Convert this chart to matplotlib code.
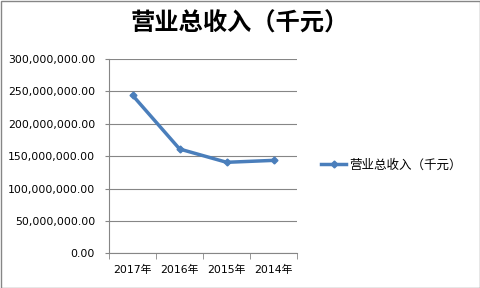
import matplotlib
matplotlib.use("Agg")
import matplotlib.pyplot as plt
from matplotlib.ticker import FuncFormatter, MultipleLocator
from matplotlib.patches import Rectangle

plt.rcParams['font.family'] = ['DejaVu Sans', 'Noto Sans CJK SC']

categories = ['2017年', '2016年', '2015年', '2014年']
values = [244000000, 161000000, 140500000, 143500000]
series_name = '营业总收入（千元）'
title = '营业总收入（千元）'

fig = plt.figure(figsize=(4.8, 2.88), dpi=100)
ax = fig.add_axes([109/480, 1-253.3/288, (297.3-109)/480, (253.3-59)/288])

x = list(range(len(categories)))
line, = ax.plot(x, values, color='#4A7EBB', linewidth=2.5, marker='D', markersize=3.5,
                label=series_name)

ax.set_xlim(-0.5, len(categories)-0.5)
ax.set_ylim(0, 300000000)
ax.yaxis.set_major_locator(MultipleLocator(50000000))
ax.yaxis.set_major_formatter(FuncFormatter(lambda v, p: f'{v:,.2f}'))
ax.set_xticks(x)
ax.set_xticklabels(categories)
ax.set_xticks([i-0.5 for i in range(len(categories)+1)], minor=True)
ax.tick_params(axis='x', which='major', length=0, labelsize=7.8, pad=8, colors='#000000')
ax.tick_params(axis='x', which='minor', length=4, color='#868686')
ax.tick_params(axis='y', length=3, color='#868686', labelsize=7.8, labelcolor='#000000', pad=7)
ax.grid(axis='y', color='#868686', linewidth=0.8)
ax.set_axisbelow(True)
for s in ['top', 'right']:
    ax.spines[s].set_visible(False)
for s in ['left', 'bottom']:
    ax.spines[s].set_color('#868686')
    ax.spines[s].set_linewidth(0.8)

fig.text(0.5, 1-24/288, title, ha='center', va='center', fontsize=17.5, fontweight='bold',
         family=['Noto Sans CJK SC'])

fig.legend(handles=[line], loc='center left', bbox_to_anchor=(310/480, 1-165/288),
           frameon=False, prop={'family': ['Noto Sans CJK SC'], 'size': 9},
           handlelength=2.0, handletextpad=0.2)

fig.patches.append(Rectangle((0.5/480, 0.5/288), 1-1/480, 1-1/288, transform=fig.transFigure,
                             fill=False, edgecolor='#868686', linewidth=1))

fig.savefig('out.png', dpi=100)
